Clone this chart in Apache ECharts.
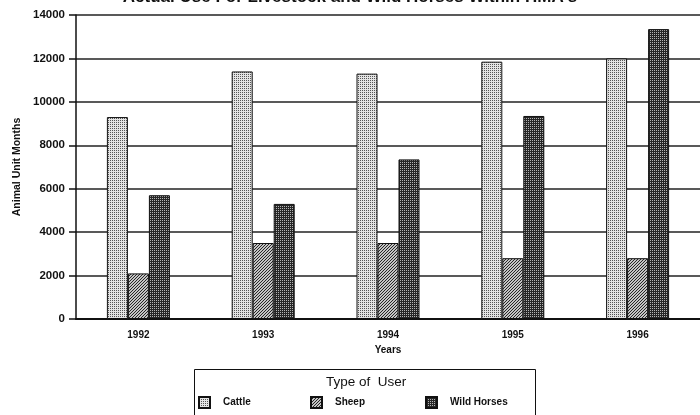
<!DOCTYPE html>
<html>
<head>
<meta charset="utf-8">
<script src="https://cdn.jsdelivr.net/npm/echarts@6/dist/echarts.min.js"></script>
<style>
  html, body { margin: 0; padding: 0; background: #fff; }
  #chart { width: 700px; height: 415px; }
</style>
</head>
<body>
<div id="chart"></div>
<script>
// Animal unit months by year and type of user
const years = ['1992', '1993', '1994', '1995', '1996'];
const cattle = [9300, 11400, 11300, 11850, 12000];
const sheep = [2100, 3500, 3500, 2800, 2800];
const wildHorses = [5700, 5300, 7350, 9350, 13350];
const yTicks = { min: 0, max: 14000, step: 2000 };

// Small tiled fills for the bar textures
function makePattern(size, draw) {
  const c = document.createElement('canvas');
  c.width = size; c.height = size;
  const ctx = c.getContext('2d');
  draw(ctx);
  return { image: c, repeat: 'repeat' };
}
const cattleFill = makePattern(2, ctx => {
  ctx.fillStyle = '#e4e4e4'; ctx.fillRect(0, 0, 2, 2);
  ctx.fillStyle = '#555';
  ctx.fillRect(0, 0, 1, 1);
});
const sheepFill = makePattern(3, ctx => {
  ctx.fillStyle = '#c4c4c4'; ctx.fillRect(0, 0, 3, 3);
  ctx.fillStyle = '#262626';
  ctx.fillRect(2, 0, 1, 1); ctx.fillRect(1, 1, 1, 1); ctx.fillRect(0, 2, 1, 1);
});
const horseFill = makePattern(2, ctx => {
  ctx.fillStyle = '#262626'; ctx.fillRect(0, 0, 2, 2);
  ctx.fillStyle = '#b4b4b4';
  ctx.fillRect(0, 0, 1, 1);
});

const font = '"Liberation Sans", Arial, sans-serif';
const chart = echarts.init(document.getElementById('chart'), null, { renderer: 'canvas' });

function bar(name, data, fill) {
  return {
    name, type: 'bar', data,
    barWidth: 21, barGap: '0%',
    itemStyle: { color: fill, borderColor: '#111', borderWidth: 1 }
  };
}

function legendItem(name, left) {
  return {
    data: [name], left, top: 396,
    icon: 'rect', itemWidth: 11, itemHeight: 11, itemGap: 0,
    padding: 0,
    textStyle: { fontFamily: font, fontSize: 10, fontWeight: 'bold', color: '#111', padding: [0, 0, 0, 8] },
    selectedMode: false
  };
}

chart.setOption({
  backgroundColor: '#fff',
  animation: false,
  grid: { left: 76, top: 15, width: 632, height: 304 },
  xAxis: {
    type: 'category', data: years,
    name: 'Years', nameLocation: 'middle', nameGap: 25,
    nameTextStyle: { fontFamily: font, fontSize: 10, fontWeight: 'bold', color: '#111' },
    axisLine: { lineStyle: { color: '#111', width: 2 } },
    axisTick: { alignWithLabel: true, length: 5, lineStyle: { color: '#111', width: 1.5 } },
    axisLabel: { fontFamily: font, fontSize: 10, fontWeight: 'bold', color: '#111', margin: 11 }
  },
  yAxis: {
    type: 'value', min: yTicks.min, max: yTicks.max, interval: yTicks.step,
    name: 'Animal Unit Months', nameLocation: 'middle', nameGap: 52, nameRotate: 90,
    nameTextStyle: { fontFamily: font, fontSize: 10.5, fontWeight: 'bold', color: '#111' },
    axisLine: { show: true, lineStyle: { color: '#111', width: 1.5 } },
    axisTick: { show: true, length: 7, lineStyle: { color: '#111', width: 1.5 } },
    axisLabel: {
      fontFamily: font, fontSize: 11.5, fontWeight: 'bold', color: '#111', margin: 11,
      formatter: v => String(v)
    },
    splitLine: { lineStyle: { color: '#222', width: 1.5 } }
  },
  legend: [
    legendItem('Cattle', 198),
    legendItem('Sheep', 310),
    legendItem('Wild Horses', 425)
  ],
  graphic: [
    {
      type: 'text', left: 'center', top: -11,
      style: { text: "Actual Use For Livestock and Wild Horses Within HMA's",
               font: 'bold 17px ' + font, fill: '#111' }
    },
    {
      type: 'rect', left: 192, top: 367, z: -1,
      shape: { width: 341, height: 47 },
      style: { fill: 'none', stroke: '#111', lineWidth: 1 }
    },
    {
      type: 'text', left: 326, top: 375,
      style: { text: 'Type of  User', font: '13.5px ' + font, fill: '#111' }
    }
  ],
  series: [
    bar('Cattle', cattle, cattleFill),
    bar('Sheep', sheep, sheepFill),
    bar('Wild Horses', wildHorses, horseFill)
  ]
});
</script>
</body>
</html>
